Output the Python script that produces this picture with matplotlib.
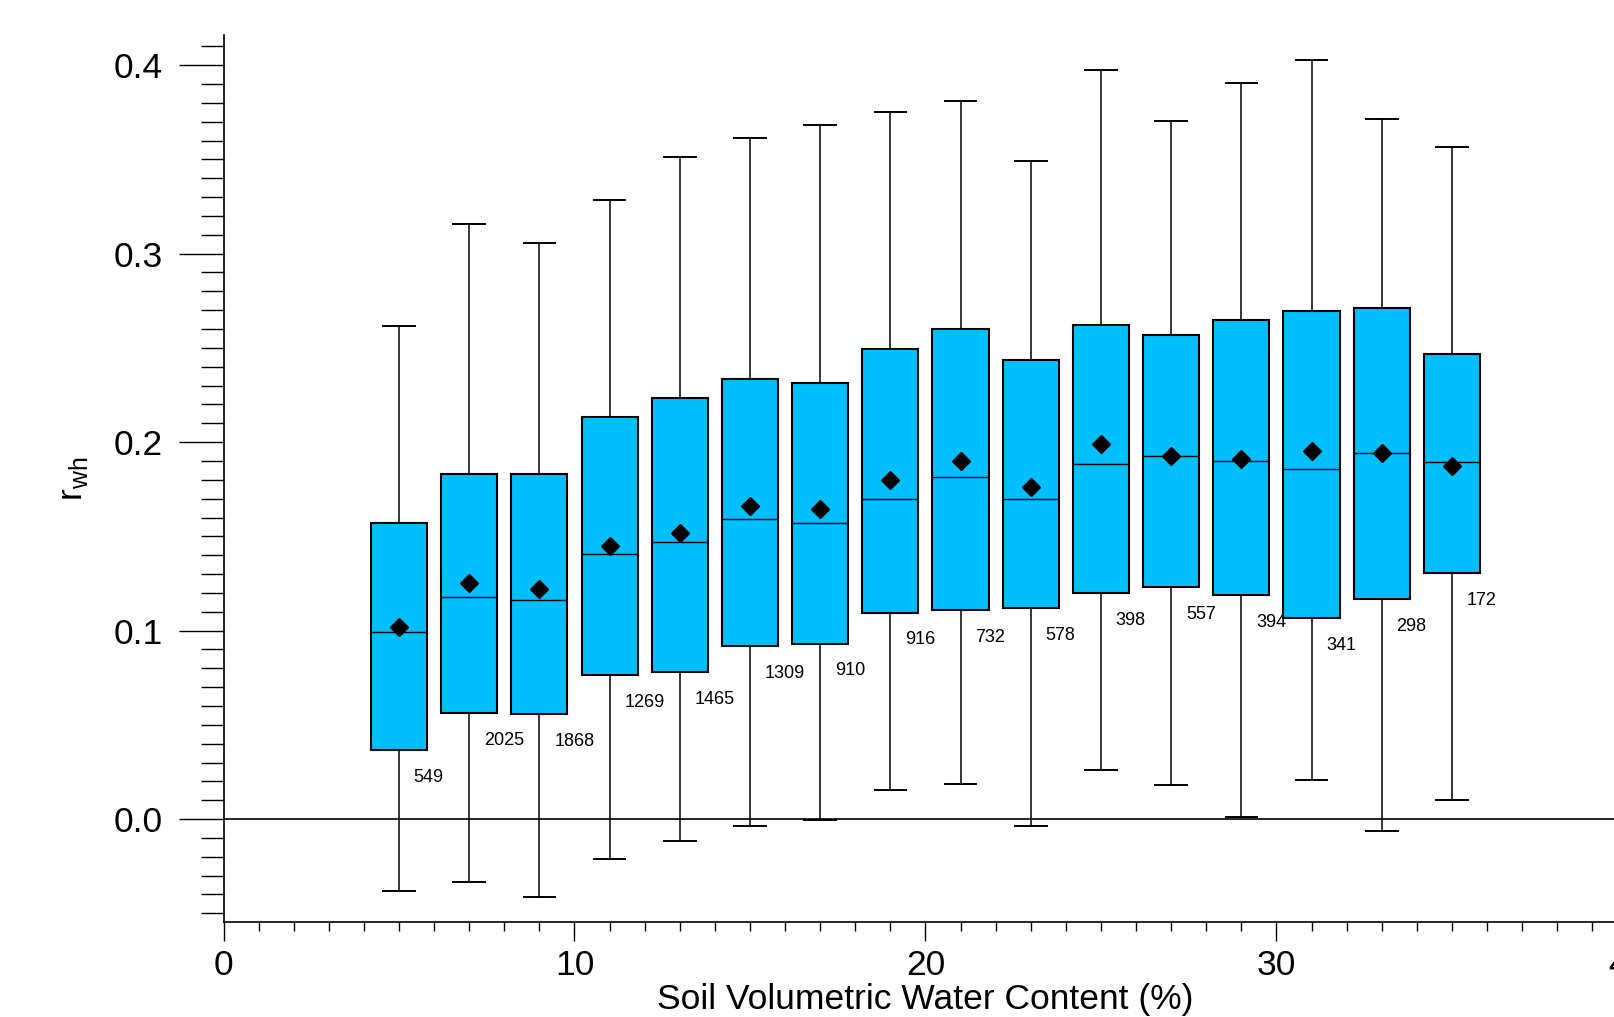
import matplotlib
matplotlib.use('Agg')
import matplotlib.pyplot as plt
from matplotlib.ticker import MultipleLocator, FormatStrFormatter

plt.rcParams['font.family'] = ['Liberation Sans', 'DejaVu Sans']

# soil water content bins (%) and box statistics of r_wh
soil_water = [5, 7, 9, 11, 13, 15, 17, 19, 21, 23, 25, 27, 29, 31, 33, 35]
whisker_hi = [0.2615, 0.3156, 0.3056, 0.3287, 0.3512, 0.3613, 0.3682, 0.3749,
              0.3809, 0.3489, 0.3975, 0.3703, 0.3903, 0.4025, 0.3715, 0.3564]
q3 = [0.157, 0.183, 0.183, 0.2134, 0.2233, 0.2337, 0.2313, 0.2492,
      0.260, 0.2435, 0.262, 0.2566, 0.2649, 0.2695, 0.2713, 0.2468]
median = [0.099, 0.118, 0.116, 0.1407, 0.1469, 0.159, 0.157, 0.170,
          0.1815, 0.170, 0.1886, 0.1927, 0.190, 0.186, 0.194, 0.1892]
mean = [0.102, 0.125, 0.122, 0.145, 0.152, 0.166, 0.1645, 0.180,
        0.190, 0.1764, 0.199, 0.1927, 0.191, 0.1953, 0.1942, 0.1874]
q1 = [0.0366, 0.0563, 0.0555, 0.0766, 0.0778, 0.0919, 0.0931, 0.1096,
      0.111, 0.112, 0.1198, 0.1232, 0.119, 0.1065, 0.1169, 0.1305]
whisker_lo = [-0.0382, -0.0334, -0.0412, -0.021, -0.0117, -0.0039, -0.0007, 0.0152,
              0.0184, -0.0039, 0.026, 0.0179, 0.0009, 0.0205, -0.0062, 0.0099]
counts = [549, 2025, 1868, 1269, 1465, 1309, 910, 916,
          732, 578, 398, 557, 394, 341, 298, 172]

stats = []
for lo, a, m, b, hi, mu in zip(whisker_lo, q1, median, q3, whisker_hi, mean):
    stats.append(dict(whislo=lo, q1=a, med=m, q3=b, whishi=hi, mean=mu, fliers=[]))

fig = plt.figure(figsize=(16.15, 10.17), dpi=100)
ax = fig.add_axes([0.1384, 0.0934, 0.8693, 0.8722])

ax.axhline(0, color='black', linewidth=1.2, zorder=1)

ax.bxp(stats, positions=soil_water, widths=1.6, capwidths=0.9,
       showmeans=True, showfliers=False, patch_artist=True, manage_ticks=False,
       boxprops=dict(facecolor='#00BFFF', edgecolor='black', linewidth=1.5),
       medianprops=dict(color='black', linewidth=1.0),
       whiskerprops=dict(color='black', linewidth=1.1),
       capprops=dict(color='black', linewidth=1.4),
       meanprops=dict(marker='D', markerfacecolor='black',
                      markeredgecolor='black', markersize=9.5))

# sample counts under each box
for x, lo, n in zip(soil_water, q1, counts):
    ax.text(x + 0.42, lo - 0.0145, str(n), fontsize=13, ha='left', va='center')

ax.set_xlim(0, 40)
ax.set_ylim(-0.0546, 0.416)
ax.xaxis.set_major_locator(MultipleLocator(10))
ax.xaxis.set_minor_locator(MultipleLocator(1))
ax.yaxis.set_major_locator(MultipleLocator(0.1))
ax.yaxis.set_minor_locator(MultipleLocator(0.01))
ax.yaxis.set_major_formatter(FormatStrFormatter('%.1f'))

ax.tick_params(axis='y', which='major', direction='out', length=32.4, width=1.0,
               pad=11.5, labelsize=25.5)
ax.tick_params(axis='y', which='minor', direction='out', length=16.5, width=1.0)
ax.tick_params(axis='x', which='major', direction='out', length=14, width=1.0,
               pad=5.5, labelsize=25.5)
ax.tick_params(axis='x', which='minor', direction='out', length=6.8, width=1.0)

for side in ['top', 'right']:
    ax.spines[side].set_visible(False)
for side in ['left', 'bottom']:
    ax.spines[side].set_linewidth(1.2)

ax.set_ylabel(r'r$_{\mathregular{wh}}$', fontsize=25.5)
ax.yaxis.set_label_coords(-0.095, 0.5)
ax.set_xlabel('Soil Volumetric Water Content (%)', fontsize=25.5, labelpad=1)

fig.savefig('out.png', dpi=100)
